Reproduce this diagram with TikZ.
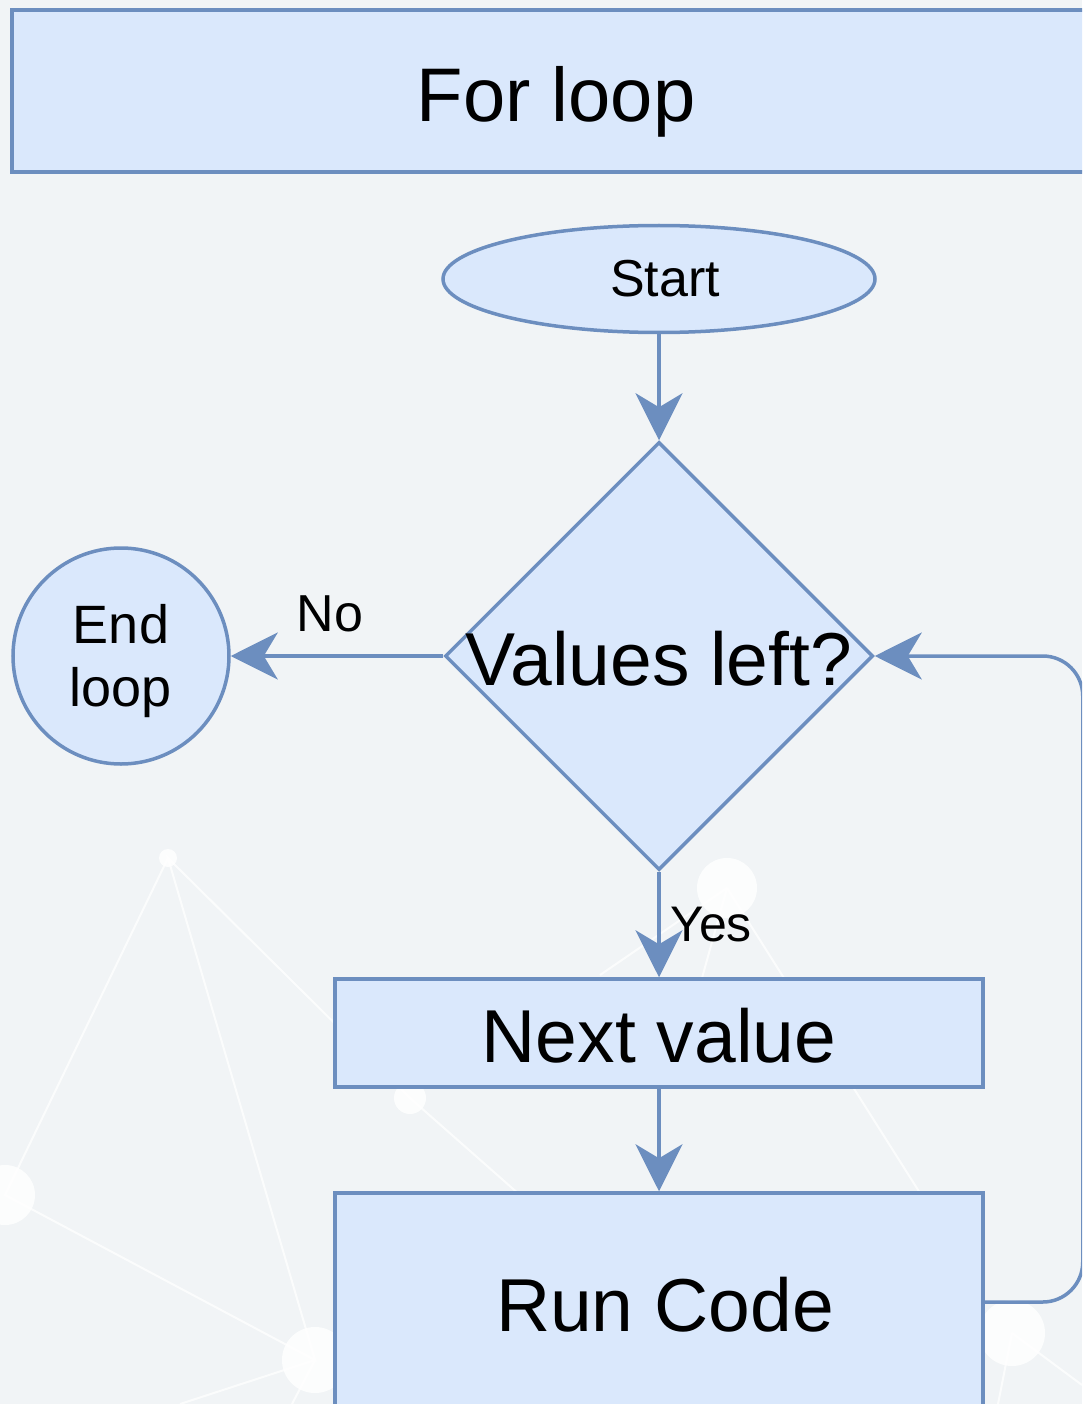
\documentclass[tikz,border=0pt]{standalone}
\usepackage{fontspec}
\setmainfont{Liberation Sans}
\usetikzlibrary{shapes.geometric,arrows.meta,calc}
\definecolor{bgc}{RGB}{241,244,246}
\definecolor{boxfill}{HTML}{DAE8FC}
\definecolor{boxline}{HTML}{6C8EBF}

\begin{document}
\begin{tikzpicture}[x=1pt,y=-1pt,
  shapebox/.style={draw=boxline, fill=boxfill, line width=3.5pt, inner sep=0pt},
  bigtext/.style={font=\fontsize{75}{88}\selectfont, text height=58pt, text depth=0pt},
  flow/.style={draw=boxline, line width=3.5pt, -{Stealth[length=47pt,width=47pt,inset=14pt]}},
  net/.style={draw=white, line width=2pt, opacity=0.75},
  netdot/.style={fill=white, opacity=0.85},
]
\clip (0,0) rectangle (1082,1404);
\fill[bgc] (0,0) rectangle (1082,1404);

% faint network in the background
\draw[net] (168,858) -- (5,1195) -- (315,1360) -- (168,858) -- (410,1098) -- (520,1195);
\draw[net] (315,1360) -- (180,1404);
\draw[net] (315,1360) -- (292,1404);
\draw[net] (727,888) -- (920,1193);
\draw[net] (727,888) -- (600,975);
\draw[net] (727,888) -- (702,978);
\draw[net] (1012,1333) -- (1082,1385);
\draw[net] (1012,1333) -- (998,1404);
\fill[netdot] (168,858) circle (9);
\fill[netdot] (5,1195) circle (30);
\fill[netdot] (315,1360) circle (33);
\fill[netdot] (410,1098) circle (16);
\fill[netdot] (727,888) circle (30);
\fill[netdot] (1012,1333) circle (33);

% flowchart shapes
\node[shapebox, minimum width=1088pt, minimum height=162pt, font=\fontsize{76}{90}\selectfont, text height=62pt, text depth=0pt] (title) at (556,91) {For loop};
\node[shapebox, ellipse, minimum width=432pt, minimum height=107pt, font=\fontsize{52}{62}\selectfont, text height=36pt, text depth=0pt] (start) at (659,279) {\hspace*{12pt}Start};
\node[shapebox, diamond, minimum width=428pt, minimum height=428pt] (dec) at (659,656) {};
\node[bigtext] (dectext) at (dec.center) {Values left?};
\node[shapebox, circle, minimum size=216pt] (endl) at (121,656) {};
\node[font=\fontsize{54}{63}\selectfont, align=center] (endtext) at ([yshift=-5pt]endl.center) {End\\loop};
\node[shapebox, minimum width=648pt, minimum height=108pt, bigtext] (next) at (659,1033) {Next value};
\node[shapebox, minimum width=648pt, minimum height=218pt, bigtext] (run) at (659,1302) {\hspace*{12pt}Run Code};

% connectors
\draw[flow] (start.south) -- (dec.north);
\draw[flow] (dec.west) -- (endl.east);
\draw[flow] (dec.south) -- (next.north);
\draw[flow] (next.south) -- (run.north);
\draw[flow, rounded corners=40pt] (run.east) -| ([xshift=208pt]dec.east) -- (dec.east);

% branch labels
\node[font=\fontsize{52}{60}\selectfont] (nolab) at (330,614) {No};
\node[font=\fontsize{50}{58}\selectfont] (yeslab) at (711,925) {Yes};
\end{tikzpicture}
\end{document}
